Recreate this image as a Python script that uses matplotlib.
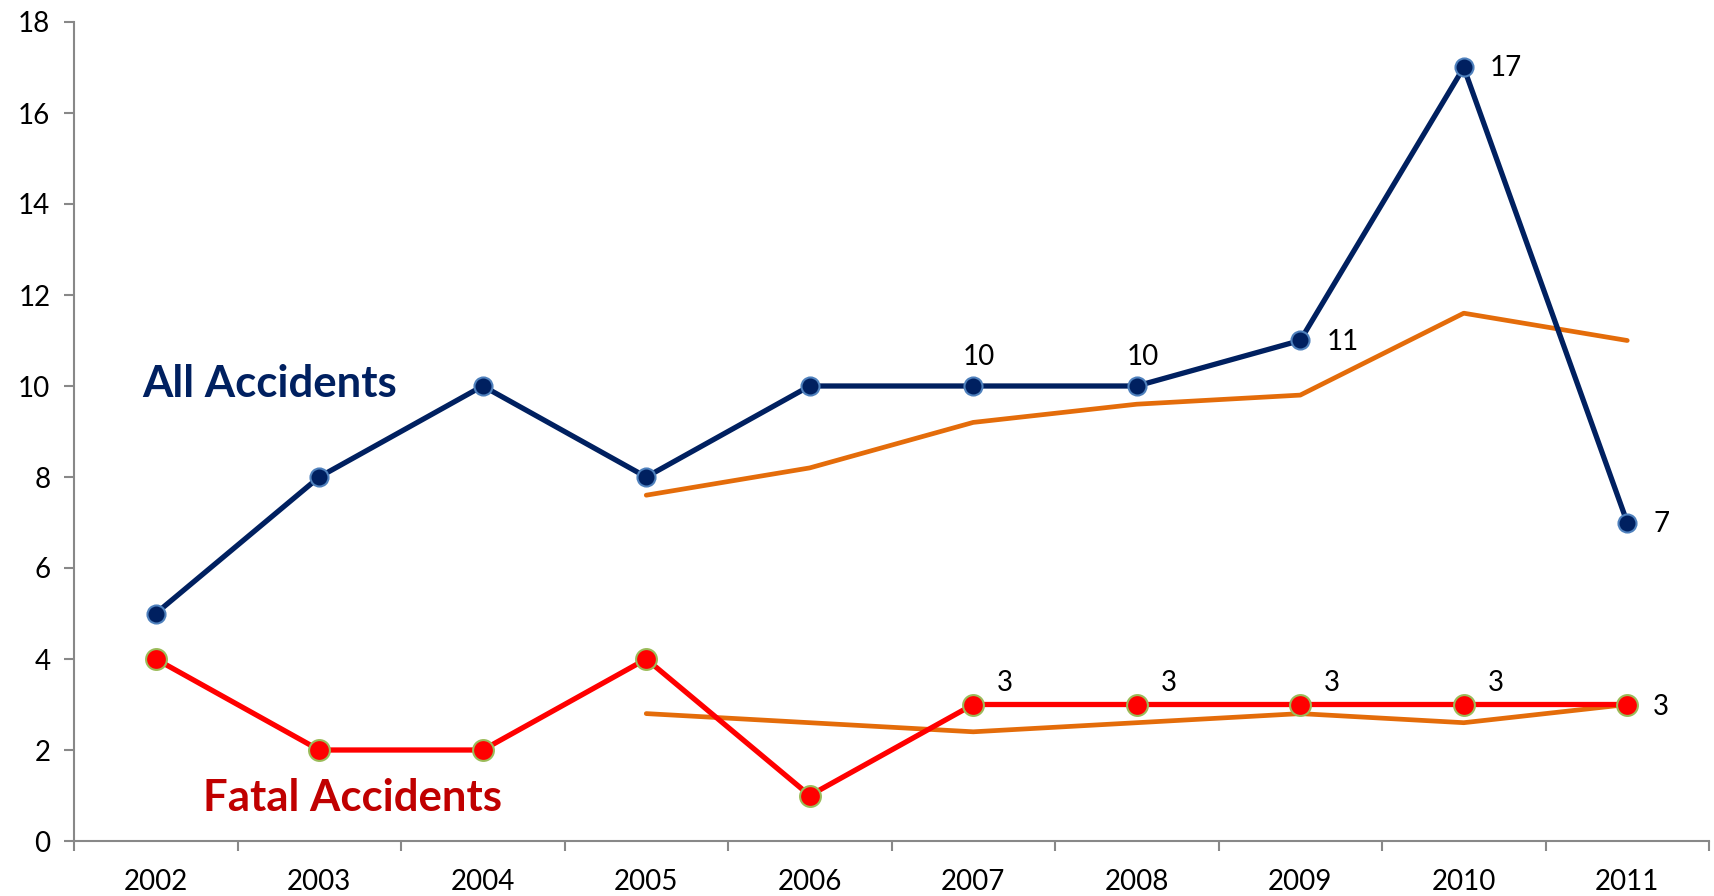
import numpy as np
import matplotlib
matplotlib.use("Agg")
from matplotlib import pyplot as plt

plt.rcParams['font.family'] = ['Lato', 'DejaVu Sans']

years = ['2002', '2003', '2004', '2005', '2006', '2007', '2008', '2009', '2010', '2011']
all_acc = [5, 8, 10, 8, 10, 10, 10, 11, 17, 7]
fatal_acc = [4, 2, 2, 4, 1, 3, 3, 3, 3, 3]
# trend lines start in 2005
trend_years = years[3:]
all_trend = [7.6, 8.2, 9.2, 9.6, 9.8, 11.6, 11.0]
fatal_trend = [2.8, 2.6, 2.4, 2.6, 2.8, 2.6, 3.0]

# which points get a label and where it goes ('up' = above right, 'right')
all_labels = {5: 'up', 6: 'up', 7: 'right', 8: 'right', 9: 'right'}
fatal_labels = {5: 'up', 6: 'up', 7: 'up', 8: 'up', 9: 'right'}

navy = '#002060'
red = '#FF0000'
orange = '#E46C0A'
fs = 20

fig = plt.figure(figsize=(17.14, 8.96), dpi=100)
ax = fig.add_axes([74 / 1714, 55 / 896, 1635 / 1714, 819 / 896])

x = np.arange(len(years)) + 0.5
xt = np.arange(len(trend_years)) + 3.5

ax.plot(xt, all_trend, color=orange, lw=3.4, solid_capstyle='round', zorder=2)
ax.plot(xt, fatal_trend, color=orange, lw=3.4, solid_capstyle='round', zorder=2)

ax.plot(x, all_acc, color=navy, lw=3.8, marker='o', markersize=13,
        markerfacecolor=navy, markeredgecolor='#4F81BD', markeredgewidth=1.5, zorder=3)
ax.plot(x, fatal_acc, color=red, lw=3.8, marker='o', markersize=15,
        markerfacecolor=red, markeredgecolor='#9BBB59', markeredgewidth=1.5, zorder=4)

for i, pos in all_labels.items():
    if pos == 'up':
        ax.annotate(str(all_acc[i]), (x[i], all_acc[i]), xytext=(6, 29),
                    textcoords='offset pixels', ha='center', va='center', fontsize=fs)
    else:
        ax.annotate(str(all_acc[i]), (x[i], all_acc[i]), xytext=(26, -1),
                    textcoords='offset pixels', ha='left', va='center', fontsize=fs)

for i, pos in fatal_labels.items():
    if pos == 'up':
        ax.annotate(str(fatal_acc[i]), (x[i], fatal_acc[i]), xytext=(32, 22),
                    textcoords='offset pixels', ha='center', va='center', fontsize=fs)
    else:
        ax.annotate(str(fatal_acc[i]), (x[i], fatal_acc[i]), xytext=(26, -2),
                    textcoords='offset pixels', ha='left', va='center', fontsize=fs)

ax.text(0.42, 10.05, 'All Accidents', color=navy, fontsize=31.5, fontweight='bold',
        ha='left', va='center')
ax.text(0.79, 0.95, 'Fatal Accidents', color='#C00000', fontsize=31.5, fontweight='bold',
        ha='left', va='center')

ax.set_xlim(0, len(years))
ax.set_ylim(0, 18)
ax.set_yticks(np.arange(0, 19, 2))
ax.set_xticks(np.arange(0, len(years) + 1))
ax.set_xticklabels([])
ax.set_xticks(x, minor=True)
ax.set_xticklabels(years, minor=True)

for s in ['top', 'right']:
    ax.spines[s].set_visible(False)
for s in ['left', 'bottom']:
    ax.spines[s].set_color('#888888')
    ax.spines[s].set_linewidth(1.5)

ax.tick_params(axis='y', which='major', direction='out', length=7, width=1.5,
               color='#888888', labelsize=fs, pad=10)
ax.tick_params(axis='x', which='major', direction='out', length=7, width=1.5,
               color='#888888')
ax.tick_params(axis='x', which='minor', length=0, labelsize=fs, pad=20)

plt.savefig('out.png', dpi=100)
